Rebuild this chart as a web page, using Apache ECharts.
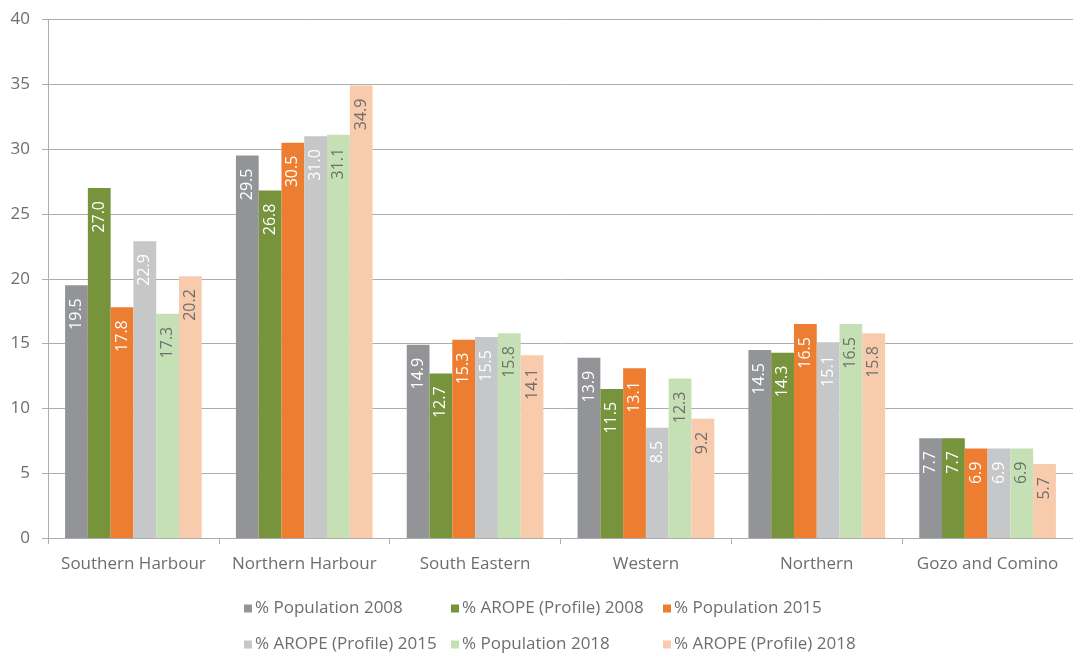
<!DOCTYPE html>
<html>
<head>
<meta charset="utf-8">
<script src="https://cdn.jsdelivr.net/npm/echarts@6/dist/echarts.min.js"></script>
<style>
  html, body { margin: 0; padding: 0; background: #fff; }
  #chart { width: 1073px; height: 655px; }
</style>
</head>
<body>
<div id="chart"></div>
<script>
// Regions (x-axis categories)
const regions = ['Southern Harbour', 'Northern Harbour', 'South Eastern', 'Western', 'Northern', 'Gozo and Comino'];

// Share per region, one array per series
const popul2008 = [19.5, 29.5, 14.9, 13.9, 14.5, 7.7];
const arope2008 = [27.0, 26.8, 12.7, 11.5, 14.3, 7.7];
const popul2015 = [17.8, 30.5, 15.3, 13.1, 16.5, 6.9];
const arope2015 = [22.9, 31.0, 15.5, 8.5, 15.1, 6.9];
const popul2018 = [17.3, 31.1, 15.8, 12.3, 16.5, 6.9];
const arope2018 = [20.2, 34.9, 14.1, 9.2, 15.8, 5.7];

// Y-axis ticks
const yTicks = [0, 5, 10, 15, 20, 25, 30, 35, 40];

const seriesDefs = [
  { name: '% Population 2008', data: popul2008, color: '#939497', label: '#ffffff' },
  { name: '% AROPE (Profile) 2008', data: arope2008, color: '#77933c', label: '#ffffff' },
  { name: '% Population 2015', data: popul2015, color: '#ed7d31', label: '#ffffff' },
  { name: '% AROPE (Profile) 2015', data: arope2015, color: '#c6c7c9', label: '#ffffff' },
  { name: '% Population 2018', data: popul2018, color: '#c5e0b4', label: '#6f6f6f' },
  { name: '% AROPE (Profile) 2018', data: arope2018, color: '#f8cbad', label: '#6f6f6f' }
];

const FONT = '"Open Sans", "DejaVu Sans", sans-serif';
const TEXT = '#6d6e71';
const LINE = '#adadad';

// legend slots: two rows of three
const legendSlots = [
  { left: 244, top: 600 }, { left: 451, top: 600 }, { left: 663, top: 600 },
  { left: 244, top: 636 }, { left: 451, top: 636 }, { left: 663, top: 636 }
];

const chart = echarts.init(document.getElementById('chart'), null, { renderer: 'canvas' });

chart.setOption({
  animation: false,
  backgroundColor: '#ffffff',
  textStyle: { fontFamily: FONT },
  grid: { left: 48, right: 0, top: 19.5, bottom: 117, containLabel: false },
  legend: seriesDefs.map((s, i) => ({
    data: [s.name],
    left: legendSlots[i].left,
    top: legendSlots[i].top,
    padding: 0,
    itemWidth: 8,
    itemHeight: 8,
    itemGap: 0,
    icon: 'rect',
    selectedMode: false,
    textStyle: { color: TEXT, fontSize: 17, fontFamily: FONT, padding: [0, 0, 0, -2] }
  })),
  xAxis: {
    type: 'category',
    data: regions,
    boundaryGap: true,
    axisLine: { lineStyle: { color: LINE, width: 1 } },
    axisTick: { show: true, interval: 0, length: 6, alignWithLabel: false, lineStyle: { color: LINE } },
    axisLabel: { interval: 0, hideOverlap: false, color: TEXT, fontSize: 17, fontFamily: FONT, margin: 18 }
  },
  yAxis: {
    type: 'value',
    min: yTicks[0],
    max: yTicks[yTicks.length - 1],
    interval: yTicks[1] - yTicks[0],
    axisLine: { show: true, lineStyle: { color: LINE, width: 1 } },
    axisTick: { show: true, length: 6, lineStyle: { color: LINE } },
    axisLabel: { color: TEXT, fontSize: 17, fontFamily: FONT, margin: 18 },
    splitLine: { lineStyle: { color: LINE, width: 1 } }
  },
  series: seriesDefs.map(s => ({
    name: s.name,
    type: 'bar',
    data: s.data,
    barGap: '0%',
    barCategoryGap: '20%',
    itemStyle: { color: s.color },
    label: {
      show: true,
      position: 'insideTop',
      rotate: 90,
      align: 'right',
      verticalAlign: 'middle',
      distance: 13,
      color: s.label,
      fontSize: 16,
      fontFamily: FONT,
      formatter: p => p.value.toFixed(1)
    }
  }))
});
</script>
</body>
</html>
